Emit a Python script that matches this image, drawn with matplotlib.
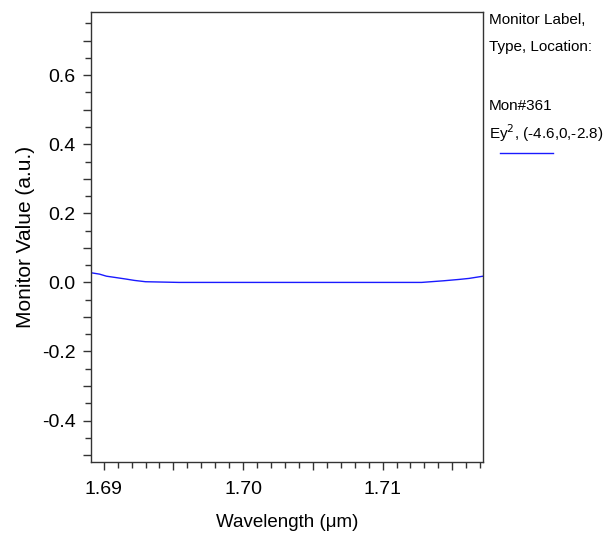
import matplotlib
matplotlib.use("Agg")
import matplotlib.pyplot as plt
from matplotlib.ticker import MultipleLocator, FuncFormatter

plt.rcParams['font.family'] = ['Liberation Sans', 'DejaVu Sans']

wavelength = [1.68909, 1.6897, 1.6902, 1.6908, 1.6916, 1.6922, 1.6930, 1.6954,
              1.7000, 1.7050, 1.7100, 1.7128, 1.7144, 1.7155, 1.7162, 1.7172]
monitor_value = [0.028, 0.024, 0.018, 0.0145, 0.0097, 0.0058, 0.002, 0.0,
                 0.0, 0.0, 0.0, 0.0, 0.0048, 0.0087, 0.0116, 0.018]

x_ticks = [1.69, 1.70, 1.71]
y_ticks = [-0.4, -0.2, 0.0, 0.2, 0.4, 0.6]

fig = plt.figure(figsize=(6.14, 5.36), dpi=100)
ax = fig.add_axes([91/614, 1-462/536, (483-91)/614, (462-12)/536])
ax.plot(wavelength, monitor_value, color='#1a1aff', lw=1.0)
ax.set_xlim(1.68909, 1.7172)
ax.set_ylim(-0.52, 0.783)

ax.xaxis.set_major_locator(MultipleLocator(0.005))
ax.xaxis.set_minor_locator(MultipleLocator(0.001))
ax.xaxis.set_major_formatter(FuncFormatter(
    lambda v, p: f"{v:.2f}" if any(abs(v - t) < 1e-6 for t in x_ticks) else ""))
ax.yaxis.set_major_locator(MultipleLocator(0.1))
ax.yaxis.set_minor_locator(MultipleLocator(0.05))
ax.yaxis.set_major_formatter(FuncFormatter(
    lambda v, p: f"{v:.1f}".replace("-0.0", "0.0") if any(abs(v - t) < 1e-6 for t in y_ticks) else ""))

ax.tick_params(which='major', direction='out', length=6, width=1, labelsize=14, color='#333333')
ax.tick_params(which='minor', direction='out', length=4, width=1, color='#333333')
ax.tick_params(axis='x', pad=8)
ax.tick_params(axis='y', pad=5)
for s in ax.spines.values():
    s.set_linewidth(1.0)
    s.set_color('#333333')

ax.set_xlabel('Wavelength (\u03bcm)', fontsize=13.5, labelpad=11)
ax.set_ylabel('Monitor Value (a.u.)', fontsize=15, labelpad=5)

fs = 11
fig.text(489/614, 1-20/536, 'Monitor Label,', fontsize=fs, va='center', ha='left')
fig.text(489/614, 1-47/536, 'Type, Location:', fontsize=fs, va='center', ha='left')
fig.text(489/614, 1-106/536, 'Mon#361', fontsize=fs, va='center', ha='left')
fig.text(489/614, 1-133/536, 'Ey$^2$, (-4.6,0,-2.8)', fontsize=fs, va='center', ha='left')
fig.add_artist(plt.Line2D([500/614, 553/614], [1-153/536, 1-153/536], color='#1a1aff', lw=1.0))

fig.savefig('out.png', dpi=100)
